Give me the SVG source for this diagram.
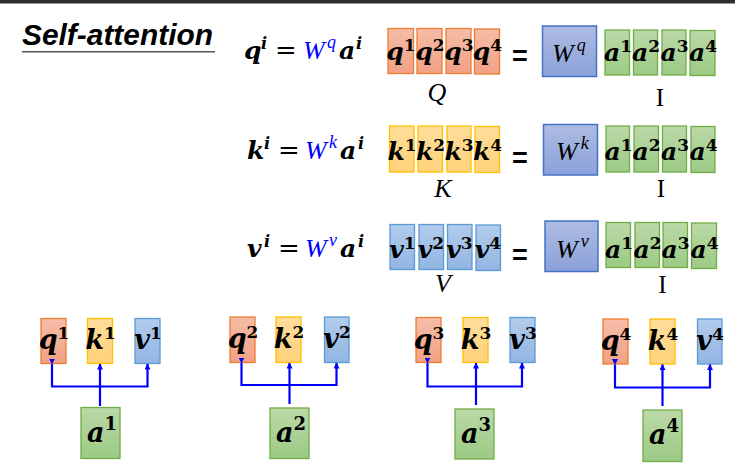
<svg xmlns="http://www.w3.org/2000/svg" width="735" height="470" viewBox="0 0 735 470">
<defs>
<linearGradient id="gq" x1="0" y1="0" x2="0" y2="1"><stop offset="0" stop-color="#F6BDA8"/><stop offset="1" stop-color="#F1A183"/></linearGradient>
<linearGradient id="gk" x1="0" y1="0" x2="0" y2="1"><stop offset="0" stop-color="#FFDD9A"/><stop offset="1" stop-color="#FFD17A"/></linearGradient>
<linearGradient id="gv" x1="0" y1="0" x2="0" y2="1"><stop offset="0" stop-color="#B2CCEC"/><stop offset="1" stop-color="#92B5E2"/></linearGradient>
<linearGradient id="ga" x1="0" y1="0" x2="0" y2="1"><stop offset="0" stop-color="#BBD9A8"/><stop offset="1" stop-color="#9CCA84"/></linearGradient>
<linearGradient id="gw" x1="0" y1="0" x2="0" y2="1"><stop offset="0" stop-color="#AEBCE3"/><stop offset="1" stop-color="#8BA1DA"/></linearGradient>
<marker id="ah" viewBox="0 0 6 6" refX="5.5" refY="3" markerWidth="6" markerHeight="6" markerUnits="userSpaceOnUse" orient="auto"><path d="M0,0 L6,3 L0,6 z" fill="#0000FF"/></marker>
</defs>
<style>
.q{fill:url(#gq);stroke:#ED7D31;stroke-width:1.3}
.k{fill:url(#gk);stroke:#FFC000;stroke-width:1.3}
.v{fill:url(#gv);stroke:#5B9BD5;stroke-width:1.3}
.a{fill:url(#ga);stroke:#70AD47;stroke-width:1.3}
.wb{fill:url(#gw);stroke:#4472C4;stroke-width:1.5}
.m{font-family:"DejaVu Serif",serif;font-weight:bold;font-style:italic;font-size:25px;fill:#000}
.mb{font-family:"DejaVu Serif",serif;font-weight:bold;font-style:italic;font-size:27px;fill:#000}
.s{font-family:"DejaVu Serif",serif;font-weight:bold;font-style:normal;font-size:17px}
.sb{font-family:"DejaVu Serif",serif;font-weight:bold;font-style:normal;font-size:18px}
.si{font-family:"DejaVu Serif",serif;font-weight:bold;font-style:italic;font-size:16px;fill:#000}
.wt{font-family:"Liberation Serif",serif;font-style:italic;font-size:26px;fill:#000}
.wblue{font-family:"Liberation Serif",serif;font-style:italic;font-size:26px;fill:#0000FF}
.ws{font-family:"Liberation Serif",serif;font-style:italic;font-size:18px}
.eq{font-family:"DejaVu Serif",serif;font-size:26px;fill:#000}
.bq{font-family:"Liberation Sans",sans-serif;font-weight:bold;font-size:27px;fill:#000;text-anchor:middle}
.lab{font-family:"Liberation Serif",serif;font-style:italic;font-size:26px;fill:#000;text-anchor:middle}
.roman{font-family:"Liberation Serif",serif;font-size:25px;fill:#000;text-anchor:middle}
.mid{text-anchor:middle}
.con{fill:none;stroke:#0000FF;stroke-width:2.2}
</style>
<rect x="0" y="0" width="735" height="3.5" fill="#2E2E2E"/>
<g id="title">
<text x="22" y="45" font-family="Liberation Sans, sans-serif" font-weight="bold" font-style="italic" font-size="30" textLength="191" lengthAdjust="spacingAndGlyphs">Self-attention</text>
<line x1="22" y1="51.8" x2="215" y2="51.8" stroke="#555" stroke-width="1.5"/>
</g>
<g id="eq-q">
<text class="m" x="244" y="59">q</text><text class="si" x="261" y="49">i</text>
<text class="eq" x="275" y="59">=</text>
<text class="wblue" x="303" y="59">W</text><text class="ws" x="327" y="48" fill="#0000FF">q</text>
<text class="m" x="339" y="59">a</text><text class="si" x="356" y="49">i</text>
</g>
<g id="eq-k">
<text class="m" x="247" y="158.5">k</text><text class="si" x="264" y="148.5">i</text>
<text class="eq" x="278" y="158.5">=</text>
<text class="wblue" x="305" y="158.5">W</text><text class="ws" x="329" y="147.5" fill="#0000FF">k</text>
<text class="m" x="340" y="158.5">a</text><text class="si" x="358" y="148.5">i</text>
</g>
<g id="eq-v">
<text class="m" x="247" y="257">v</text><text class="si" x="264" y="247">i</text>
<text class="eq" x="278" y="257">=</text>
<text class="wblue" x="305" y="257">W</text><text class="ws" x="329" y="246" fill="#0000FF">v</text>
<text class="m" x="340" y="257">a</text><text class="si" x="358" y="247">i</text>
</g>
<g id="Q">
<rect class="q" x="388" y="28.5" width="25.5" height="45"/><text class="m mid" x="401" y="60">q<tspan class="s" dy="-9">1</tspan></text>
<rect class="q" x="417" y="28.5" width="25" height="45"/><text class="m mid" x="430" y="60">q<tspan class="s" dy="-9">2</tspan></text>
<rect class="q" x="446" y="28.5" width="25" height="45"/><text class="m mid" x="459" y="60">q<tspan class="s" dy="-9">3</tspan></text>
<rect class="q" x="474.5" y="29" width="25" height="45"/><text class="m mid" x="487.5" y="60">q<tspan class="s" dy="-9">4</tspan></text>
<text class="lab" x="437" y="101">Q</text>
</g>
<g id="K">
<rect class="k" x="389.5" y="126" width="24.5" height="46"/><text class="m mid" x="402" y="160">k<tspan class="s" dy="-9">1</tspan></text>
<rect class="k" x="418" y="126" width="24.5" height="46"/><text class="m mid" x="430.5" y="160">k<tspan class="s" dy="-9">2</tspan></text>
<rect class="k" x="447" y="126" width="24" height="46"/><text class="m mid" x="459" y="160">k<tspan class="s" dy="-9">3</tspan></text>
<rect class="k" x="475" y="126.5" width="24.5" height="46"/><text class="m mid" x="487.5" y="160">k<tspan class="s" dy="-9">4</tspan></text>
<text class="lab" x="443" y="197">K</text>
</g>
<g id="V">
<rect class="v" x="390" y="224.5" width="24.5" height="45"/><text class="m mid" x="402.5" y="258">v<tspan class="s" dy="-9">1</tspan></text>
<rect class="v" x="419" y="224.5" width="24.5" height="45"/><text class="m mid" x="431" y="258">v<tspan class="s" dy="-9">2</tspan></text>
<rect class="v" x="447.5" y="224.5" width="24.5" height="45"/><text class="m mid" x="459.5" y="258">v<tspan class="s" dy="-9">3</tspan></text>
<rect class="v" x="476" y="225" width="24.5" height="45.5"/><text class="m mid" x="488" y="258">v<tspan class="s" dy="-9">4</tspan></text>
<text class="lab" x="443" y="292">V</text>
</g>
<g id="equals">
<text class="bq" x="520" y="65">=</text>
<text class="bq" x="520" y="166.5">=</text>
<text class="bq" x="520" y="263.5">=</text>
</g>
<g id="Wq"><rect class="wb" x="542.5" y="26" width="54" height="50.5"/><text class="wt" x="552" y="62">W<tspan class="ws" dx="3" dy="-11">q</tspan></text></g>
<g id="Wk"><rect class="wb" x="543.5" y="124.5" width="54" height="50.5"/><text class="wt" x="556" y="160">W<tspan class="ws" dx="3" dy="-11">k</tspan></text></g>
<g id="Wv"><rect class="wb" x="545" y="221" width="53" height="50.5"/><text class="wt" x="556" y="258">W<tspan class="ws" dx="3" dy="-11">v</tspan></text></g>
<g id="I1">
<rect class="a" x="605" y="30" width="24.5" height="45"/><text class="m mid" x="618" y="60.5">a<tspan class="s" dy="-9">1</tspan></text>
<rect class="a" x="633.5" y="30" width="24" height="45"/><text class="m mid" x="646" y="60.5">a<tspan class="s" dy="-9">2</tspan></text>
<rect class="a" x="662" y="30" width="24" height="45"/><text class="m mid" x="674.5" y="60.5">a<tspan class="s" dy="-9">3</tspan></text>
<rect class="a" x="690" y="30.5" width="25" height="45"/><text class="m mid" x="703" y="60.5">a<tspan class="s" dy="-9">4</tspan></text>
<text class="roman" x="660" y="106">I</text>
</g>
<g id="I2">
<rect class="a" x="606" y="126" width="23.5" height="46"/><text class="m mid" x="618.5" y="160">a<tspan class="s" dy="-9">1</tspan></text>
<rect class="a" x="634" y="126" width="24.5" height="46"/><text class="m mid" x="646.5" y="160">a<tspan class="s" dy="-9">2</tspan></text>
<rect class="a" x="662.5" y="126" width="24" height="46"/><text class="m mid" x="675" y="160">a<tspan class="s" dy="-9">3</tspan></text>
<rect class="a" x="691" y="126.5" width="24" height="46"/><text class="m mid" x="703.5" y="160">a<tspan class="s" dy="-9">4</tspan></text>
<text class="roman" x="661" y="197">I</text>
</g>
<g id="I3">
<rect class="a" x="606" y="222.5" width="24.5" height="45"/><text class="m mid" x="619" y="258">a<tspan class="s" dy="-9">1</tspan></text>
<rect class="a" x="635" y="222.5" width="24.5" height="45"/><text class="m mid" x="647.5" y="258">a<tspan class="s" dy="-9">2</tspan></text>
<rect class="a" x="663" y="222.5" width="24.5" height="45"/><text class="m mid" x="675.5" y="258">a<tspan class="s" dy="-9">3</tspan></text>
<rect class="a" x="691.5" y="223" width="25" height="45.5"/><text class="m mid" x="704.5" y="258">a<tspan class="s" dy="-9">4</tspan></text>
<text class="roman" x="662.5" y="293">I</text>
</g>
<g id="n-q1"><rect class="q" x="41" y="318.5" width="25" height="45"/><text class="mb mid" x="54" y="349">q<tspan class="s" dy="-10">1</tspan></text></g>
<g id="n-k1"><rect class="k" x="87.5" y="318.5" width="25" height="45"/><text class="mb mid" x="100.5" y="349">k<tspan class="s" dy="-10">1</tspan></text></g>
<g id="n-v1"><rect class="v" x="135" y="318.5" width="25" height="45"/><text class="mb mid" x="148" y="349">v<tspan class="s" dy="-10">1</tspan></text></g>
<g id="n-a1"><rect class="a" x="81" y="407.5" width="39" height="51"/><text class="mb mid" x="102" y="442">a<tspan class="sb" dy="-12">1</tspan></text></g>
<g id="n-q2"><rect class="q" x="230" y="317" width="25" height="45.5"/><text class="mb mid" x="243" y="348">q<tspan class="s" dy="-10">2</tspan></text></g>
<g id="n-k2"><rect class="k" x="276" y="317" width="25" height="45.5"/><text class="mb mid" x="289" y="348">k<tspan class="s" dy="-10">2</tspan></text></g>
<g id="n-v2"><rect class="v" x="324.5" y="317" width="24.5" height="45.5"/><text class="mb mid" x="337" y="348">v<tspan class="s" dy="-10">2</tspan></text></g>
<g id="n-a2"><rect class="a" x="270" y="408" width="39" height="50.5"/><text class="mb mid" x="291" y="442">a<tspan class="sb" dy="-12">2</tspan></text></g>
<g id="n-q3"><rect class="q" x="416" y="317.5" width="25" height="45"/><text class="mb mid" x="429" y="348.5">q<tspan class="s" dy="-10">3</tspan></text></g>
<g id="n-k3"><rect class="k" x="463" y="317.5" width="25" height="45"/><text class="mb mid" x="476" y="348.5">k<tspan class="s" dy="-10">3</tspan></text></g>
<g id="n-v3"><rect class="v" x="510" y="317.5" width="25" height="45"/><text class="mb mid" x="523" y="348.5">v<tspan class="s" dy="-10">3</tspan></text></g>
<g id="n-a3"><rect class="a" x="455" y="409" width="39" height="50"/><text class="mb mid" x="476" y="443">a<tspan class="sb" dy="-12">3</tspan></text></g>
<g id="n-q4"><rect class="q" x="603" y="319" width="25" height="45"/><text class="mb mid" x="616" y="350">q<tspan class="s" dy="-10">4</tspan></text></g>
<g id="n-k4"><rect class="k" x="650" y="319" width="25" height="45"/><text class="mb mid" x="663" y="350">k<tspan class="s" dy="-10">4</tspan></text></g>
<g id="n-v4"><rect class="v" x="697.5" y="319" width="24.5" height="45"/><text class="mb mid" x="710" y="350">v<tspan class="s" dy="-10">4</tspan></text></g>
<g id="n-a4"><rect class="a" x="643" y="410" width="39" height="51.5"/><text class="mb mid" x="664" y="444">a<tspan class="sb" dy="-12">4</tspan></text></g>
<g id="connectors">
<path class="con" d="M100,406 V364" marker-end="url(#ah)"/>
<path class="con" d="M52,364 V386.5 H147.5 V364" marker-start="url(#ah)" marker-end="url(#ah)"/>
<path class="con" d="M289.5,404 V363" marker-end="url(#ah)"/>
<path class="con" d="M241.5,363 V385 H336.5 V363" marker-start="url(#ah)" marker-end="url(#ah)"/>
<path class="con" d="M476,405 V363" marker-end="url(#ah)"/>
<path class="con" d="M427.5,363 V386.5 H522 V363" marker-start="url(#ah)" marker-end="url(#ah)"/>
<path class="con" d="M662.5,406 V364.5" marker-end="url(#ah)"/>
<path class="con" d="M615,364.5 V387.5 H710 V364.5" marker-start="url(#ah)" marker-end="url(#ah)"/>
</g>
</svg>
